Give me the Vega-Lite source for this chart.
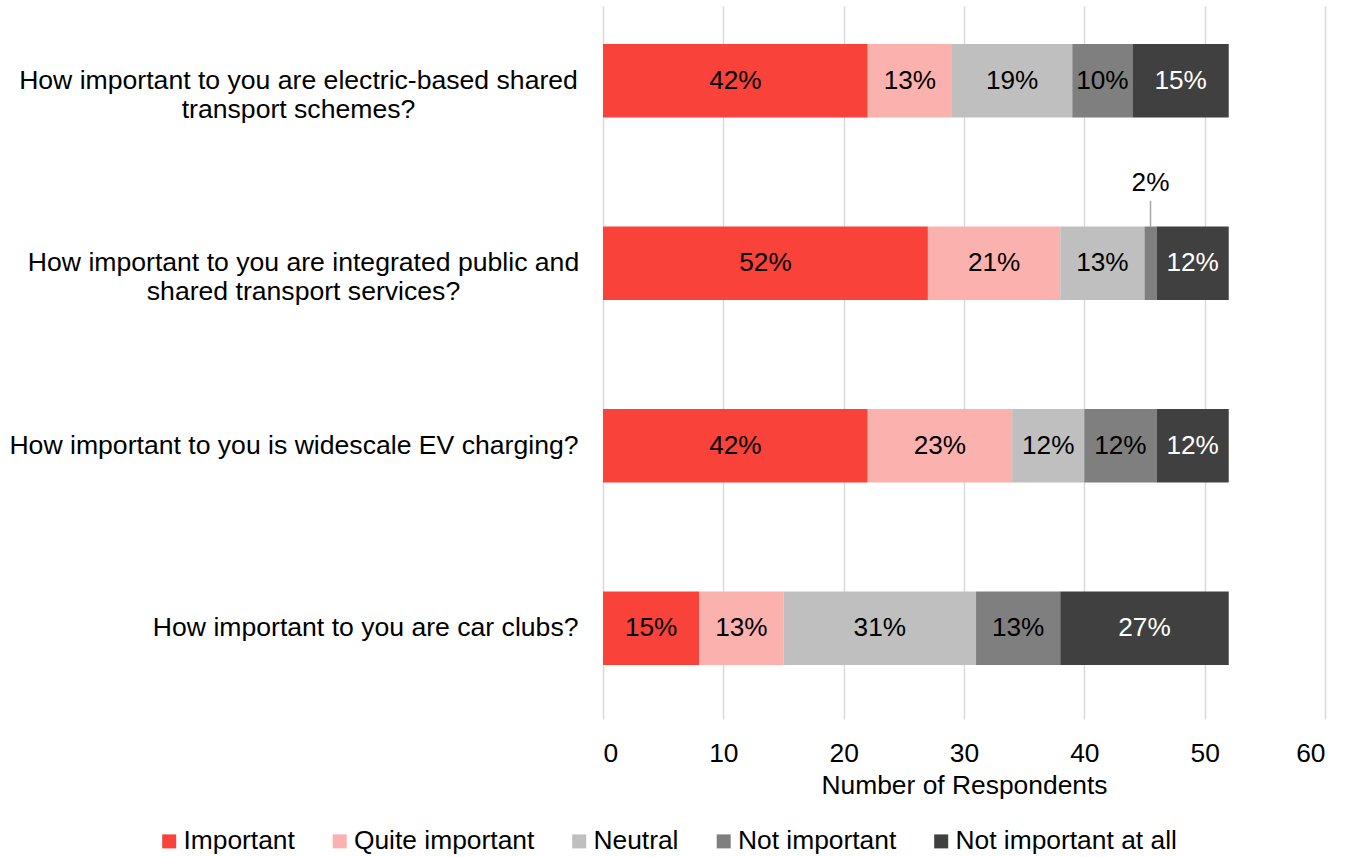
{
  "$schema": "https://vega.github.io/schema/vega-lite/v6.json",
  "autosize": {"type": "none"},
  "width": 722,
  "height": 713,
  "padding": {"left": 603, "top": 6, "right": 29, "bottom": 138},
  "background": "white",
  "config": {
    "font": "Liberation Sans",
    "view": {"stroke": null},
    "axis": {"labelColor": "#000000", "titleColor": "#000000", "labelFont": "Liberation Sans", "titleFont": "Liberation Sans"},
    "legend": {"labelFont": "Liberation Sans"}
  },
  "data": {
    "values": [
      {"q": "How important to you are electric-based shared transport schemes?", "response": "Important", "count": 22, "pct": 0.42},
      {"q": "How important to you are electric-based shared transport schemes?", "response": "Quite important", "count": 7, "pct": 0.13},
      {"q": "How important to you are electric-based shared transport schemes?", "response": "Neutral", "count": 10, "pct": 0.19},
      {"q": "How important to you are electric-based shared transport schemes?", "response": "Not important", "count": 5, "pct": 0.10},
      {"q": "How important to you are electric-based shared transport schemes?", "response": "Not important at all", "count": 8, "pct": 0.15},
      {"q": "How important to you are integrated public and shared transport services?", "response": "Important", "count": 27, "pct": 0.52},
      {"q": "How important to you are integrated public and shared transport services?", "response": "Quite important", "count": 11, "pct": 0.21},
      {"q": "How important to you are integrated public and shared transport services?", "response": "Neutral", "count": 7, "pct": 0.13},
      {"q": "How important to you are integrated public and shared transport services?", "response": "Not important", "count": 1, "pct": 0.02},
      {"q": "How important to you are integrated public and shared transport services?", "response": "Not important at all", "count": 6, "pct": 0.12},
      {"q": "How important to you is widescale EV charging?", "response": "Important", "count": 22, "pct": 0.42},
      {"q": "How important to you is widescale EV charging?", "response": "Quite important", "count": 12, "pct": 0.23},
      {"q": "How important to you is widescale EV charging?", "response": "Neutral", "count": 6, "pct": 0.12},
      {"q": "How important to you is widescale EV charging?", "response": "Not important", "count": 6, "pct": 0.12},
      {"q": "How important to you is widescale EV charging?", "response": "Not important at all", "count": 6, "pct": 0.12},
      {"q": "How important to you are car clubs?", "response": "Important", "count": 8, "pct": 0.15},
      {"q": "How important to you are car clubs?", "response": "Quite important", "count": 7, "pct": 0.13},
      {"q": "How important to you are car clubs?", "response": "Neutral", "count": 16, "pct": 0.31},
      {"q": "How important to you are car clubs?", "response": "Not important", "count": 7, "pct": 0.13},
      {"q": "How important to you are car clubs?", "response": "Not important at all", "count": 14, "pct": 0.27}
    ]
  },
  "transform": [
    {"stack": "count", "groupby": ["q"], "as": ["x0", "x1"]}
  ],
  "encoding": {
    "y": {
      "field": "q",
      "type": "nominal",
      "sort": [
        "How important to you are electric-based shared transport schemes?",
        "How important to you are integrated public and shared transport services?",
        "How important to you is widescale EV charging?",
        "How important to you are car clubs?"
      ],
      "scale": {"paddingInner": 0.597, "paddingOuter": 0.252, "align": 0.413},
      "axis": {
        "title": null,
        "domain": false,
        "ticks": false,
        "tickSize": 0,
        "labelPadding": 25,
        "labelFontSize": 26.6,
        "labelLineHeight": 29,
        "labelLimit": 700,
        "labelAlign": {"condition": {"test": "indexof(datum.value, 'shared') >= 0", "value": "center"}, "value": "right"},
        "labelBaseline": "middle",
        "encoding": {
          "labels": {
            "dx": {"value": {"expr": "indexof(datum.value, 'electric-based') >= 0 ? -280 : indexof(datum.value, 'integrated') >= 0 ? -275 : 0"}}
          }
        },
        "labelExpr": "datum.value == 'How important to you are electric-based shared transport schemes?' ? ['How important to you are electric-based shared', 'transport schemes?'] : datum.value == 'How important to you are integrated public and shared transport services?' ? ['How important to you are integrated public and', 'shared transport services?'] : datum.label"
      }
    }
  },
  "layer": [
    {
      "mark": {"type": "bar"},
      "encoding": {
        "x": {
          "field": "x0",
          "type": "quantitative",
          "scale": {"domain": [0, 60], "nice": false},
          "axis": {
            "title": "Number of Respondents",
            "values": [0, 10, 20, 30, 40, 50, 60],
            "domain": false,
            "ticks": false,
            "tickSize": 0,
            "labelPadding": 21,
            "labelFontSize": 26.4,
            "labelBaseline": "top",
            "titleFontSize": 26.4,
            "titleFontWeight": "normal",
            "titlePadding": 6,
            "grid": true,
            "gridColor": "#D9D9D9",
            "gridWidth": 1.5
          }
        },
        "x2": {"field": "x1"},
        "color": {
          "field": "response",
          "type": "nominal",
          "scale": {
            "domain": ["Important", "Quite important", "Neutral", "Not important", "Not important at all"],
            "range": ["#F9423A", "#FBB1AE", "#BFBFBF", "#7F7F7F", "#404040"]
          },
          "legend": {
            "title": null,
            "orient": "none",
            "direction": "horizontal",
            "legendX": -447,
            "legendY": 822,
            "padding": 0,
            "symbolType": "square",
            "symbolSize": 196,
            "symbolStrokeWidth": 0,
            "labelFontSize": 26.4,
            "labelColor": "#000000",
            "labelOffset": 1,
            "columnPadding": 31.5,
            "labelLimit": 400
          }
        }
      }
    },
    {
      "transform": [
        {"filter": "datum.count > 1"},
        {"fold": ["x0", "x1"], "as": ["edge", "v"]}
      ],
      "mark": {"type": "text", "fontSize": 26.2, "baseline": "middle", "align": "center"},
      "encoding": {
        "x": {"field": "v", "aggregate": "mean", "type": "quantitative"},
        "detail": {"field": "response"},
        "text": {"field": "pct", "type": "quantitative", "format": ".0%"},
        "color": {
          "condition": {"test": "datum.response == 'Not important at all'", "value": "#FFFFFF"},
          "value": "#000000"
        }
      }
    },
    {
      "transform": [
        {"filter": "datum.count <= 1"},
        {"fold": ["x0", "x1"], "as": ["edge", "v"]}
      ],
      "mark": {"type": "text", "fontSize": 26.2, "baseline": "middle", "align": "center", "yOffset": -80, "color": "#000000"},
      "encoding": {
        "x": {"field": "v", "aggregate": "mean", "type": "quantitative"},
        "detail": {"field": "response"},
        "text": {"field": "pct", "type": "quantitative", "format": ".0%"}
      }
    },
    {
      "transform": [
        {"filter": "datum.count <= 1"},
        {"fold": ["x0", "x1"], "as": ["edge", "v"]}
      ],
      "mark": {"type": "tick", "orient": "vertical", "size": 26, "thickness": 1.5, "yOffset": -49.5, "color": "#A6A6A6"},
      "encoding": {
        "x": {"field": "v", "aggregate": "mean", "type": "quantitative"},
        "detail": {"field": "response"}
      }
    }
  ]
}
